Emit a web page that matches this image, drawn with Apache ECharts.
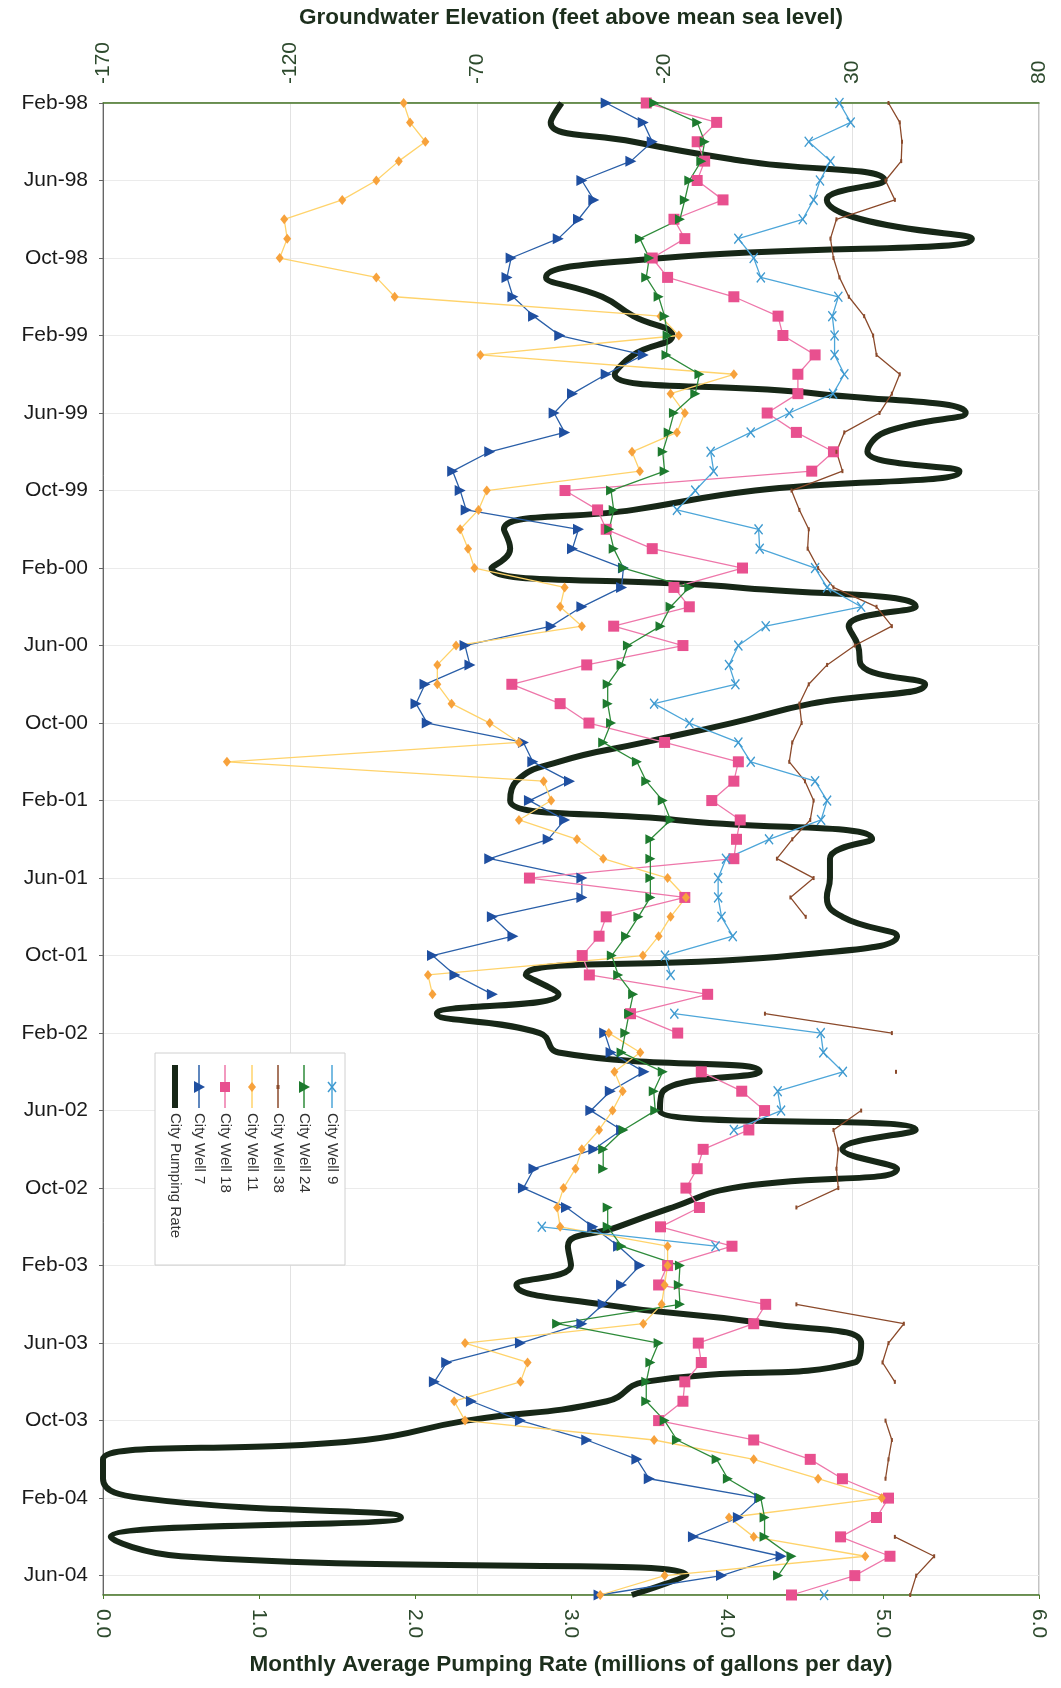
<!doctype html>
<html>
<head>
    <meta charset="utf-8">
    <title>City Wells</title>
    <script src="https://cdn.jsdelivr.net/npm/echarts/dist/echarts.min.js"></script>
    <style>
        html, body { margin: 0; padding: 0; background: #fff; }
        #chart { width: 1061px; height: 1688px; }
    </style>
</head>
<body>
<div id="chart"></div>
<script>
    // month index 0 = Feb-98 ... 77 = Jul-04, one value per month (null = no reading)
    var tickLabels = ['Feb-98','Jun-98','Oct-98','Feb-99','Jun-99','Oct-99','Feb-00','Jun-00','Oct-00','Feb-01',
        'Jun-01','Oct-01','Feb-02','Jun-02','Oct-02','Feb-03','Jun-03','Oct-03','Feb-04','Jun-04'];

    var pumpingRate = [
        2.94, 2.87, 3.40, 4.11, 5.01, 4.64, 4.86, 5.57, 3.59, 2.84,
        3.20, 3.40, 3.65, 3.40, 3.28, 4.58, 5.53, 5.01, 4.90, 5.49,
        4.18, 3.40, 2.57, 2.61, 2.49, 4.07, 5.21, 4.78, 4.84, 4.86,
        5.27, 4.54, 4.03, 3.47, 2.92, 2.65, 2.61, 3.67, 4.93, 4.66,
        4.66, 4.64, 4.74, 5.09, 4.42, 2.71, 2.92, 2.14, 2.80, 2.92,
        4.21, 3.59, 3.57, 5.21, 4.74, 5.09, 4.03, 3.65, 3.30, 2.98,
        3.00, 2.65, 3.20, 4.26, 4.86, 4.82, 3.47, 3.23, 2.33, 1.68,
        0.00, 0.00, 0.25, 1.91, 0.05, 0.50, 3.74, 3.39
    ];
    var well7 = [
        -35.6, -25.7, -23.3, -29.0, -42.1, -38.9, -43.0, -48.4, -61.0, -62.1,
        -60.5, -55.0, -48.0, -25.7, -35.6, -44.6, -49.5, -46.7, -66.7, -76.6,
        -74.6, -73.0, -43.0, -44.6, -31.0, -31.5, -42.1, -50.3, -73.3, -72.0,
        -84.0, -86.4, -83.4, -57.7, -55.2, -45.4, -56.1, -46.7, -51.1, -66.7,
        -42.1, -42.1, -66.0, -60.5, -82.0, -76.0, -66.0, null, -36.0, -34.3,
        -25.5, -34.5, -39.7, -31.5, -38.9, -54.9, -57.7, -46.2, -39.2, -32.3,
        -26.6, -31.5, -36.4, -42.1, -58.5, -78.2, -81.5, -71.6, -58.5, -40.8,
        -27.4, -24.1, 5.4, -0.3, -12.3, 11.1, -4.8, -37.5
    ];
    var well18 = [
        -24.9, -6.1, -11.3, -9.3, -11.3, -4.4, -17.5, -14.6, -23.3, -19.2,
        -1.5, 10.3, 11.6, 20.2, 15.6, 15.6, 7.4, 15.2, 25.1, 19.3,
        -46.6, -37.9, -35.6, -23.3, 0.8, -17.5, -13.4, -33.6, -15.1, -40.8,
        -60.8, -47.9, -40.2, -20.0, -0.3, -1.5, -7.4, 0.2, -0.8, -1.5,
        -56.1, -14.6, -35.6, -37.5, -42.0, -40.1, -8.5, -29.1, -16.5, null,
        -10.2, 0.6, 6.7, 2.5, -9.7, -11.3, -14.3, -10.7, -21.1, -2.0,
        -19.2, -21.6, 7.0, 3.8, -11.0, -10.2, -14.6, -15.1, -21.6, 3.8,
        18.9, 27.5, 39.8, 36.6, 27.0, 40.2, 30.8, 13.9
    ];
    var well11 = [
        -89.7, -88.0, -83.9, -91.0, -97.0, -106.1, -121.6, -120.8, -122.8, -97.0,
        -92.1, -21.1, -16.2, -69.2, -1.5, -18.4, -14.6, -16.7, -28.7, -26.6,
        -67.5, -69.7, -74.6, -72.5, -70.8, -46.7, -47.9, -42.1, -75.7, -80.7,
        -80.7, -76.9, -66.7, -58.9, -136.9, -52.3, -50.3, -58.9, -43.4, -36.4,
        -19.2, -14.3, -18.4, -21.6, -25.8, -83.2, -82.0, null, -34.9, -26.5,
        -33.4, -31.2, -33.9, -37.5, -42.1, -43.8, -47.0, -48.7, -47.9, -19.2,
        -19.2, -20.0, -20.8, -25.7, -73.3, -56.6, -58.5, -76.2, -73.3, -22.8,
        3.8, 21.0, 38.0, -2.8, 3.8, 33.6, -20.0, -37.2
    ];
    var well38 = [
        39.8, 42.8, 43.4, 43.2, 39.0, 41.5, 25.9, 24.3, 25.1, 26.7,
        29.2, 33.3, 35.7, 36.6, 42.8, 40.7, 37.4, 28.0, 25.9, 27.5,
        13.9, 16.0, 18.5, 18.2, 21.0, 25.1, 36.6, 40.7, 30.8, 23.4,
        18.5, 16.0, 16.6, 14.1, 13.3, 17.5, 19.8, 18.9, 14.1, 10.0,
        19.8, 13.6, 17.7, null, null, null, null, 6.8, 40.7, null,
        41.8, null, 32.5, 25.1, 26.4, 25.9, 26.4, 15.2, null, null,
        null, null, 15.2, 43.9, 39.8, 38.2, 41.5, null, 39.0, 40.7,
        39.8, 39.0, null, null, 41.5, 52.0, 47.2, 45.6
    ];
    var well24 = [
        -22.8, -11.3, -9.3, -10.2, -13.4, -14.6, -15.9, -26.6, -24.1, -24.9,
        -21.6, -20.0, -19.2, -19.5, -10.7, -11.8, -17.5, -18.9, -20.5, -20.0,
        -34.3, -33.6, -34.8, -33.6, -31.0, -13.4, -18.4, -21.1, -29.8, -31.5,
        -35.2, -35.2, -34.3, -36.4, -27.4, -24.9, -20.5, -18.4, -23.8, -23.8,
        -23.8, -23.8, -27.0, -30.3, -34.1, -32.4, -28.4, -29.5, -30.5, -31.5,
        -20.5, -22.9, -22.5, -31.0, -36.4, -36.4, null, -35.2, -35.2, -31.5,
        -15.9, -16.2, -15.9, -48.7, -21.6, -23.8, -24.9, -24.9, -20.0, -16.7,
        -6.1, -3.1, 5.7, 6.7, 6.7, 13.9, 10.3, null
    ];
    var well9 = [
        26.7, 29.7, 18.5, 24.3, 21.5, 19.8, 16.9, -0.3, 3.8, 5.7,
        26.4, 24.8, 25.4, 25.4, 28.0, 25.0, 13.3, 3.0, -7.7, -6.9,
        -11.8, -16.7, 5.1, 5.4, 20.2, 23.4, 32.5, 7.0, -0.3, -2.8,
        -1.1, -22.8, -13.4, -0.3, 3.0, 20.2, 23.4, 21.8, 7.9, -3.6,
        -5.7, -5.7, -4.8, -1.8, -19.9, -18.4, null, -17.4, 21.7, 22.4,
        27.6, 10.2, 11.1, -1.5, null, null, null, null, -52.8, -6.4,
        null, null, null, null, null, null, null, null, null, null,
        null, null, null, null, null, null, null, 22.6
    ];

    var textFont = "'Liberation Sans', Arial, sans-serif";
    var titleFont = "'Liberation Sans Narrow', 'Arial Narrow', 'Liberation Sans', sans-serif";

    function toPoints(vals) {
        return vals.map(function (v, i) { return [v === null ? '-' : v, i]; });
    }

    var xMark = 'path://M0,1L1,0L5,4L9,0L10,1L6,5L10,9L9,10L5,6L1,10L0,9L4,5Z';

    function wellSeries(name, vals, lineColor, markColor, symbol, size, rotate) {
        return {
            name: name,
            type: 'line',
            xAxisIndex: 0,
            data: toPoints(vals),
            symbol: symbol,
            symbolSize: size,
            symbolRotate: rotate || 0,
            showSymbol: true,
            lineStyle: { color: lineColor, width: 1.3 },
            itemStyle: { color: markColor },
            emphasis: { disabled: true },
            silent: true
        };
    }

    // legend drawn by hand: vertical sample lines with text turned 90 degrees
    var legendDefs = [
        { name: 'City Pumping Rate', color: '#172717', mark: 'none', x: 175 },
        { name: 'City Well 7', color: '#2a5fa8', mcolor: '#1f4fa0', mark: 'tri', x: 199 },
        { name: 'City Well 18', color: '#ee77aa', mcolor: '#e8508f', mark: 'square', x: 225 },
        { name: 'City Well 11', color: '#ffd36b', mcolor: '#f7a23c', mark: 'diamond', x: 252 },
        { name: 'City Well 38', color: '#8b4a2b', mcolor: '#8b4a2b', mark: 'dash', x: 278 },
        { name: 'City Well 24', color: '#2e8b3a', mcolor: '#1d7a2e', mark: 'tri', x: 304 },
        { name: 'City Well 9', color: '#4da6d9', mcolor: '#3f9ad0', mark: 'x', x: 332 }
    ];
    var legendGraphic = [{
        type: 'rect', shape: { x: 155, y: 1053, width: 190, height: 212 },
        style: { fill: '#fff', stroke: '#d0d0d0', lineWidth: 1 }, z: 50
    }];
    legendDefs.forEach(function (d) {
        var cx = d.x, cy = 1087;
        legendGraphic.push({
            type: 'line', shape: { x1: cx, y1: 1065, x2: cx, y2: 1108 },
            style: { stroke: d.color, lineWidth: d.mark === 'none' ? 6 : 1.5 }, z: 51
        });
        var m = null;
        if (d.mark === 'tri') {
            m = { type: 'polygon', shape: { points: [[cx - 5, cy - 6], [cx + 6, cy], [cx - 5, cy + 6]] }, style: { fill: d.mcolor } };
        } else if (d.mark === 'square') {
            m = { type: 'rect', shape: { x: cx - 5, y: cy - 5, width: 10, height: 10 }, style: { fill: d.mcolor } };
        } else if (d.mark === 'diamond') {
            m = { type: 'polygon', shape: { points: [[cx, cy - 5], [cx + 4, cy], [cx, cy + 5], [cx - 4, cy]] }, style: { fill: d.mcolor } };
        } else if (d.mark === 'dash') {
            m = { type: 'rect', shape: { x: cx - 1.5, y: cy - 2, width: 3, height: 4 }, style: { fill: d.mcolor } };
        } else if (d.mark === 'x') {
            m = { type: 'polyline', shape: { points: [[cx - 4, cy - 5], [cx + 4, cy + 5]] }, style: { stroke: d.mcolor, lineWidth: 1.5 } };
            legendGraphic.push({ type: 'polyline', shape: { points: [[cx + 4, cy - 5], [cx - 4, cy + 5]] }, style: { stroke: d.mcolor, lineWidth: 1.5 }, z: 52 });
        }
        if (m) { m.z = 52; legendGraphic.push(m); }
        legendGraphic.push({
            type: 'text', x: cx, y: 1113, rotation: -Math.PI / 2, z: 52,
            style: { text: d.name, font: '15px ' + textFont, fill: '#333', align: 'left', verticalAlign: 'middle' }
        });
    });

    var myChart = echarts.init(document.getElementById('chart'));
    var option = {
        animation: false,
        backgroundColor: '#fff',
        grid: { left: 103, right: 22, top: 103, bottom: 93, show: true, borderColor: '#888', borderWidth: 1 },
        xAxis: [
            {
                type: 'value', position: 'top', min: -170, max: 80, interval: 50,
                name: 'Groundwater Elevation (feet above mean sea level)',
                nameLocation: 'middle', nameGap: 74,
                nameTextStyle: { fontFamily: titleFont, fontWeight: 'bold', fontSize: 22.5, color: '#1c2e1c' },
                axisLine: { show: true, onZero: false, lineStyle: { color: '#4a7a2a', width: 1.5 } },
                axisTick: { show: false },
                axisLabel: { rotate: -90, margin: 19, fontFamily: textFont, fontSize: 21, color: '#2d4a2d' },
                splitLine: { show: true, lineStyle: { color: '#e2e2e2', width: 1 } }
            },
            {
                type: 'value', position: 'bottom', min: 0, max: 6, interval: 1,
                name: 'Monthly Average Pumping Rate (millions of gallons per day)',
                nameLocation: 'middle', nameGap: 58,
                nameTextStyle: { fontFamily: titleFont, fontWeight: 'bold', fontSize: 22.5, color: '#1c2e1c' },
                axisLine: { show: true, onZero: false, lineStyle: { color: '#4a7a2a', width: 1.5 } },
                axisTick: { show: true, length: 4, lineStyle: { color: '#4a7a2a' } },
                axisLabel: {
                    rotate: -90, margin: 14, fontFamily: textFont, fontSize: 21, color: '#2d4a2d',
                    formatter: function (v) { return v.toFixed(1); }
                },
                splitLine: { show: false }
            }
        ],
        yAxis: {
            type: 'value', inverse: true, min: 0, max: 77, interval: 4,
            axisLine: { show: true, onZero: false, lineStyle: { color: '#666' } },
            axisTick: { show: true, length: 4, lineStyle: { color: '#666' } },
            axisLabel: {
                margin: 15, fontFamily: textFont, fontSize: 21, color: '#1a1a1a', showMaxLabel: false,
                formatter: function (v) { return tickLabels[v / 4] || ''; }
            },
            splitLine: { show: true, lineStyle: { color: '#ebebeb', width: 1 } }
        },
        series: [
            {
                name: 'City Pumping Rate',
                type: 'line',
                xAxisIndex: 1,
                data: toPoints(pumpingRate),
                smooth: 0.5,
                showSymbol: false,
                lineStyle: { color: '#172717', width: 6 },
                itemStyle: { color: '#172717' },
                emphasis: { disabled: true },
                silent: true
            },
            wellSeries('City Well 7', well7, '#2a5fa8', '#1f4fa0', 'triangle', 11, -90),
            wellSeries('City Well 18', well18, '#ee77aa', '#e8508f', 'rect', 11),
            wellSeries('City Well 11', well11, '#ffd36b', '#f7a23c', 'diamond', [8, 10]),
            wellSeries('City Well 38', well38, '#8b4a2b', '#8b4a2b', 'rect', [2, 4]),
            wellSeries('City Well 24', well24, '#2e8b3a', '#1d7a2e', 'triangle', 10, -90),
            wellSeries('City Well 9', well9, '#4da6d9', '#3f9ad0', xMark, [9, 11])
        ],
        graphic: legendGraphic
    };
    myChart.setOption(option);
</script>
</body>
</html>
